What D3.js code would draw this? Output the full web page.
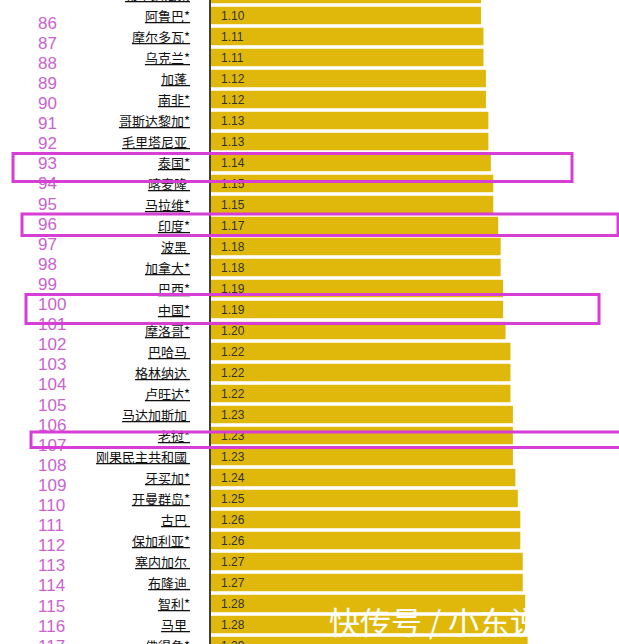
<!DOCTYPE html>
<html><head><meta charset="utf-8">
<script src="https://cdn.jsdelivr.net/npm/d3@7"></script>
<style>
html,body{margin:0;padding:0;background:#fff;}
svg{display:block;}
</style></head>
<body>
<script>
const countries = ["布基纳法索","阿鲁巴*","摩尔多瓦*","乌克兰*","加蓬 ","南非*","哥斯达黎加*","毛里塔尼亚 ","泰国*","喀麦隆 ","马拉维*","印度*","波黑 ","加拿大*","巴西*","中国*","摩洛哥*","巴哈马 ","格林纳达 ","卢旺达*","马达加斯加 ","老挝*","刚果民主共和國 ","牙买加*","开曼群岛*","古巴 ","保加利亚*","塞内加尔 ","布隆迪 ","智利*","马里 ","佛得角*"];
const values = [1.10,1.10,1.11,1.11,1.12,1.12,1.13,1.13,1.14,1.15,1.15,1.17,1.18,1.18,1.19,1.19,1.20,1.22,1.22,1.22,1.23,1.23,1.23,1.24,1.25,1.26,1.26,1.27,1.27,1.28,1.28,1.29];
const ranks = d3.range(86, 118);
const highlights = [
  {country:"泰国*", x0:13, x1:572, dy0:-9, dy1:19},
  {country:"印度*", x0:22, x1:618, dy0:-11.5, dy1:10},
  {country:"中国*", x0:26, x1:599, dy0:-15, dy1:14},
  {country:"老挝*", x0:31, x1:625, dy0:-3.5, dy1:12}
];
const watermark = "快传号 / 小东说";

const W = 619, H = 644;
const svg = d3.select("body").append("svg").attr("width", W).attr("height", H);

const x = d3.scaleLinear().domain([0, 1.10]).range([211, 481]);
const y = d3.scaleBand().domain(countries).range([-16, 656]).paddingInner(0.17).paddingOuter(0.085);
const yr = d3.scalePoint().domain(ranks).range([22.5, 22.5 + 31 * 20.1]);

// bars
svg.append("g").selectAll("rect").data(countries).join("rect")
  .attr("x", x(0))
  .attr("y", d => y(d))
  .attr("width", (d, i) => x(values[i]) - x(0))
  .attr("height", y.bandwidth())
  .attr("fill", "#e0b80b");

// value labels
svg.append("g").selectAll("text").data(countries).join("text")
  .attr("x", x(0) + 10)
  .attr("y", d => y(d) + y.bandwidth() / 2)
  .attr("dy", "0.36em")
  .attr("font-family", "Liberation Sans, Arial, sans-serif")
  .attr("font-size", 12)
  .attr("fill", "#333")
  .text((d, i) => values[i].toFixed(2));

// axis
const axis = svg.append("g").attr("transform", `translate(${x(0) - 1},0)`)
  .call(d3.axisLeft(y).tickSize(0).tickPadding(20).tickFormat(d => d));
axis.select(".domain").attr("stroke", "#000").attr("stroke-width", 1.5).attr("d", `M0,-20V${H + 20}`);
axis.selectAll("text")
  .attr("font-family", "Noto Sans CJK SC, sans-serif")
  .attr("font-size", 13)
  .attr("fill", "#111")
  .attr("dy", "0.42em")
  .style("white-space", "pre")
  .style("text-decoration", "underline");

// rank numbers
svg.append("g").selectAll("text").data(ranks).join("text")
  .attr("x", 38)
  .attr("y", d => yr(d))
  .attr("dy", "0.36em")
  .attr("font-family", "Liberation Sans, Arial, sans-serif")
  .attr("font-size", 17)
  .attr("fill", "#c963cf")
  .text(d => d);

// highlight boxes
svg.append("g").selectAll("rect").data(highlights).join("rect")
  .attr("x", d => d.x0)
  .attr("y", d => y(d.country) + y.bandwidth() / 2 + d.dy0)
  .attr("width", d => d.x1 - d.x0)
  .attr("height", d => d.dy1 - d.dy0)
  .attr("fill", "none")
  .attr("stroke", "#d63ed6")
  .attr("stroke-width", 3);

// watermark
svg.append("text")
  .attr("x", 329).attr("y", 634)
  .attr("font-family", "Noto Sans CJK SC, sans-serif")
  .attr("font-size", 31)
  .attr("fill", "#fff")
  .text(watermark);
</script>
</body></html>
